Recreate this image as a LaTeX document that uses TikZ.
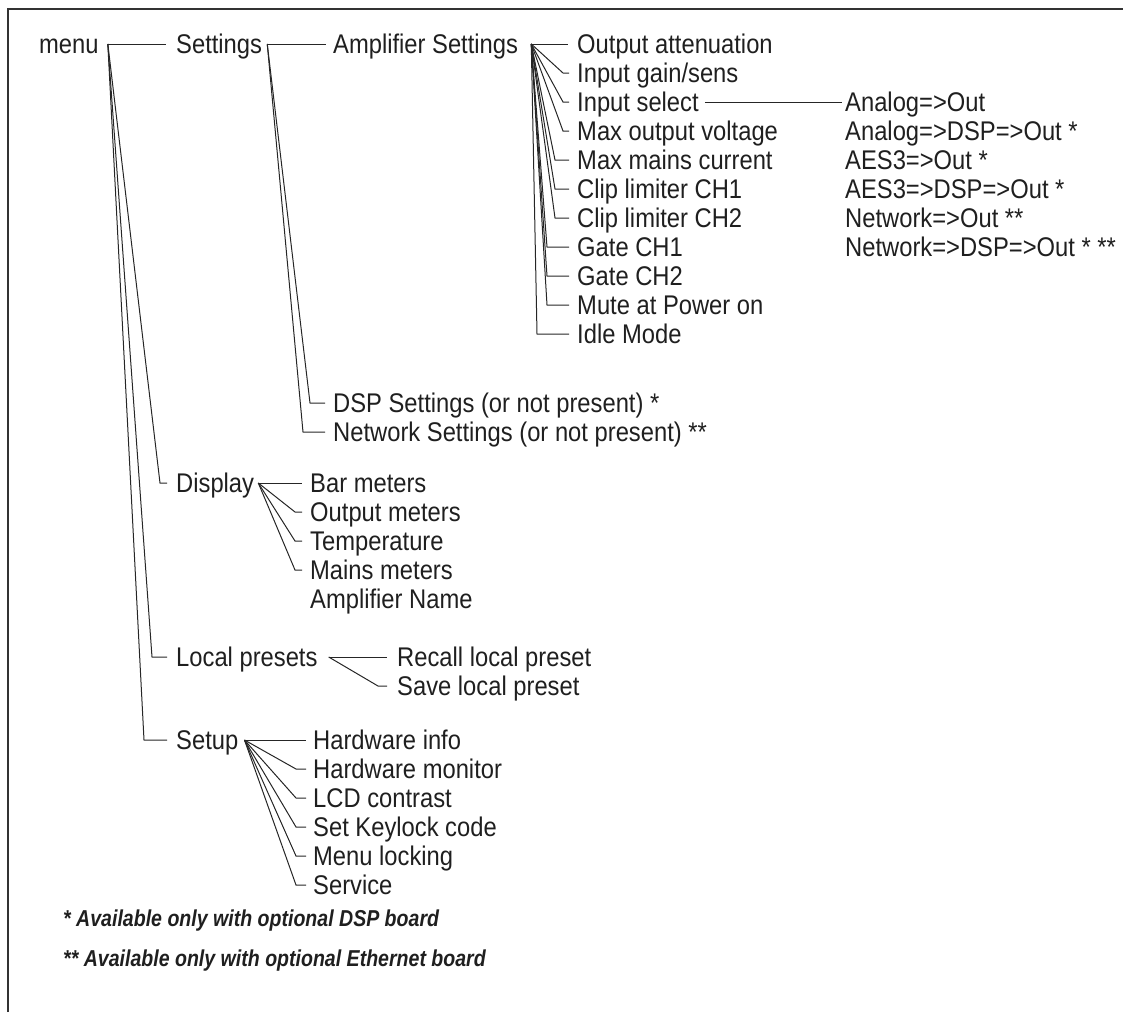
\documentclass[tikz,border=0pt]{standalone}
\usepackage{fontspec}
\setmainfont{Liberation Sans}[FakeStretch=0.88]
\newfontfamily\notefont{Liberation Sans}[FakeStretch=0.85]
\usetikzlibrary{positioning}

\tikzset{
  item/.style={anchor=west, inner sep=0pt, text height=19.7pt, text depth=0pt,
    text=black!88, font=\fontsize{27}{32}\selectfont},
  note/.style={anchor=west, inner sep=0pt, text=black!88,
    font=\notefont\fontsize{23}{27}\selectfont\bfseries\itshape},
  link/.style={line width=1pt, black!85},
}

\begin{document}
\begin{tikzpicture}[x=1pt, y=-1pt]
\useasboundingbox (0,0) rectangle (1123,1012);
\draw[line width=1.3pt, black!80] (8,1012) -- (8,9) -- (1123,9);

% top of the tree
\node[item] (menu)  at (39,44)  {menu};
\node[item] (set)   at (176,44) {Settings};
\node[item] (disp)  at (176,483) {Display};
\node[item] (loc)   at (176,657) {Local presets};
\node[item] (setup) at (176,740) {Setup};

% Settings branch
\node[item] (amp) at (333,44)  {Amplifier Settings};
\node[item] (dsp) at (333,403) {DSP Settings (or not present) *};
\node[item] (net) at (333,432) {Network Settings (or not present) **};

\foreach \t [count=\i from 0] in {Output attenuation, Input gain/sens,
    Input select, Max output voltage, Max mains current, Clip limiter CH1,
    Clip limiter CH2, Gate CH1, Gate CH2, Mute at Power on, Idle Mode}
  \node[item] (amp\i) at (577,44+29*\i) {\t};

\foreach \t [count=\i from 0] in {Analog=>Out, Analog=>DSP=>Out *,
    AES3=>Out *, AES3=>DSP=>Out *, Network=>Out **, Network=>DSP=>Out * **}
  \node[item] (an\i) at (845,102+29*\i) {\t};

% Display branch
\foreach \t [count=\i from 0] in {Bar meters, Output meters, Temperature,
    Mains meters, Amplifier Name}
  \node[item] (disp\i) at (310,483+29*\i) {\t};

% Local presets branch
\node[item] (loc0) at (397,657) {Recall local preset};
\node[item] (loc1) at (397,686) {Save local preset};

% Setup branch
\foreach \t [count=\i from 0] in {Hardware info, Hardware monitor,
    LCD contrast, Set Keylock code, Menu locking, Service}
  \node[item] (setup\i) at (313,740+29*\i) {\t};

% footnotes
\node[note] (fn1) at (63,921) {* Available only with optional DSP board};
\node[note] (fn2) at (63,961) {** Available only with optional Ethernet board};

% connectors
\coordinate (menu-o)  at ([xshift=9pt]menu.east);
\coordinate (set-o)   at ([xshift=5pt]set.east);
\coordinate (amp-o)   at ([xshift=13pt]amp.east);
\coordinate (disp-o)  at ([xshift=4pt]disp.east);
\coordinate (loc-o)   at ([xshift=11pt]loc.east);
\coordinate (setup-o) at ([xshift=6pt]setup.east);

\draw[link] (menu-o) -- ([xshift=-10pt]set.west);
\foreach \c/\b in {disp/16, loc/24, setup/32}
  \draw[link] (menu-o) -- ([xshift=-\b pt]\c.west) -- ([xshift=-9pt]\c.west);

\draw[link] (set-o) -- ([xshift=-7pt]amp.west);
\foreach \c/\b in {dsp/23, net/30}
  \draw[link] (set-o) -- ([xshift=-\b pt]\c.west) -- ([xshift=-8pt]\c.west);

\draw[link] (amp-o) -- ([xshift=-9pt]amp0.west);
\foreach \i/\b in {1/14, 2/14, 3/14, 4/22, 5/22, 6/22, 7/30, 8/30, 9/30, 10/40}
  \draw[link] (amp-o) -- ([xshift=-\b pt]amp\i.west) -- ([xshift=-8pt]amp\i.west);
\draw[link] ([xshift=6pt]amp2.east) -- ([xshift=-3pt]an0.west);

\draw[link] (disp-o) -- ([xshift=-8pt]disp0.west);
\foreach \i in {1,2,3}
  \draw[link] (disp-o) -- ([xshift=-15pt]disp\i.west) -- ([xshift=-8pt]disp\i.west);

\draw[link] (loc-o) -- ([xshift=-10pt]loc0.west);
\draw[link] (loc-o) -- ([xshift=-19pt]loc1.west) -- ([xshift=-10pt]loc1.west);

\draw[link] (setup-o) -- ([xshift=-7pt]setup0.west);
\foreach \i in {1,...,5}
  \draw[link] (setup-o) -- ([xshift=-17pt]setup\i.west) -- ([xshift=-7pt]setup\i.west);
\end{tikzpicture}
\end{document}
